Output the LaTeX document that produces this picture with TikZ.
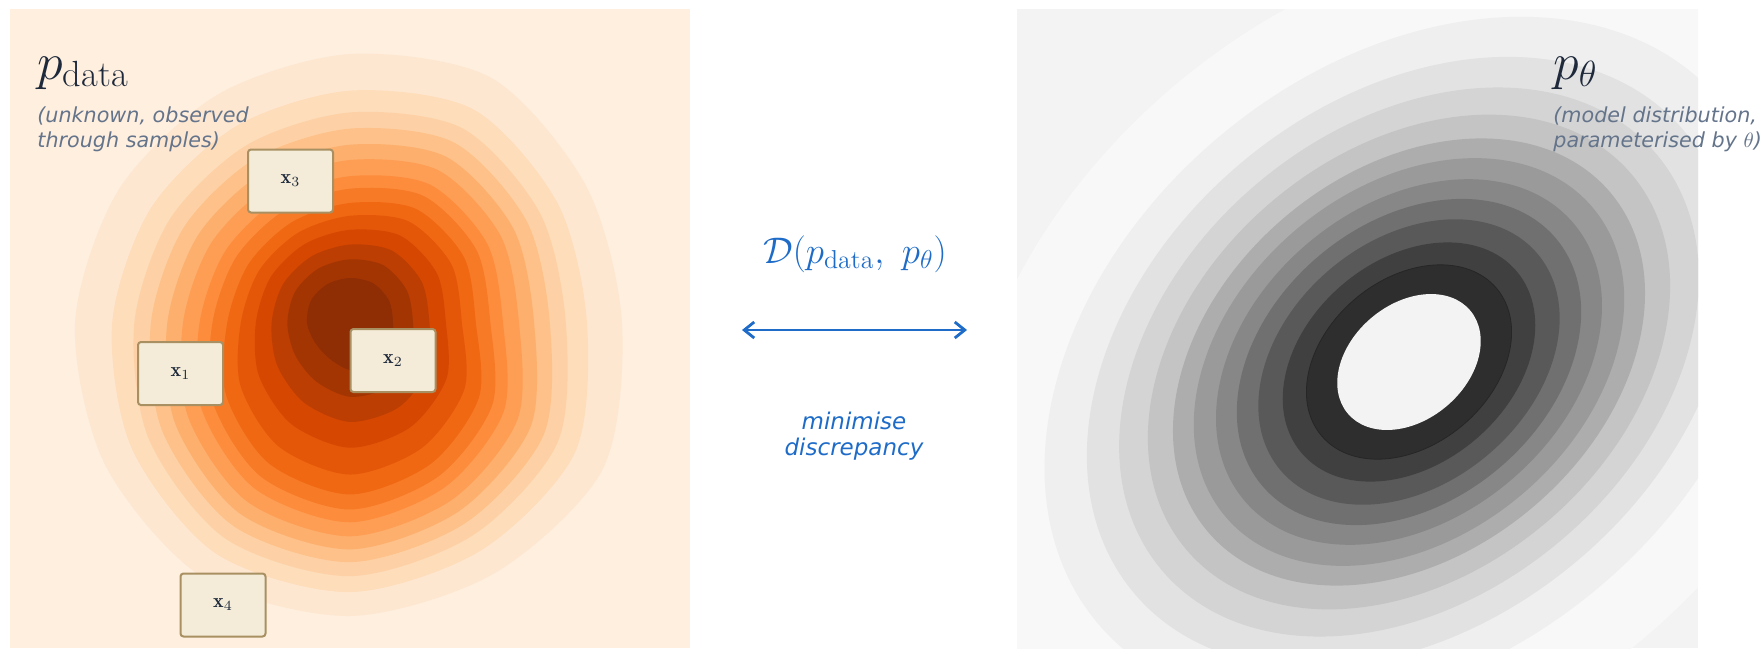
\RequirePackage{fix-cm}
\documentclass[tikz,border=0pt]{standalone}
\usepackage{fontspec}
\newfontfamily\notefont{DejaVu Sans}[ItalicFont={DejaVu Sans Oblique}]
\usetikzlibrary{arrows.meta,calc}
%% colours
\definecolor{ink}{HTML}{1E293B}
\definecolor{slate}{HTML}{64748B}
\definecolor{accent}{RGB}{30,108,200}
\definecolor{cream}{HTML}{F4ECD8}
\definecolor{tanline}{HTML}{A89062}
%% oranges, light to dark
\definecolor{or0}{RGB}{255,239,223}
\definecolor{or1}{RGB}{254,231,209}
\definecolor{or2}{RGB}{254,221,187}
\definecolor{or3}{RGB}{253,209,165}
\definecolor{or4}{RGB}{253,193,137}
\definecolor{or5}{RGB}{253,175,109}
\definecolor{or6}{RGB}{253,158,84}
\definecolor{or7}{RGB}{253,141,60}
\definecolor{or8}{RGB}{247,122,39}
\definecolor{or9}{RGB}{240,104,18}
\definecolor{or10}{RGB}{228,87,9}
\definecolor{or11}{RGB}{214,71,1}
\definecolor{or12}{RGB}{188,62,2}
\definecolor{or13}{RGB}{163,53,3}
\definecolor{or14}{RGB}{143,45,4}
%% greys, dark to light
\definecolor{gr0}{HTML}{F3F3F3}
\definecolor{gr1}{HTML}{2E2E2E}
\definecolor{gr2}{HTML}{404040}
\definecolor{gr3}{HTML}{595959}
\definecolor{gr4}{HTML}{707070}
\definecolor{gr5}{HTML}{878787}
\definecolor{gr6}{HTML}{9A9A9A}
\definecolor{gr7}{HTML}{ADADAD}
\definecolor{gr8}{HTML}{C4C4C4}
\definecolor{gr9}{HTML}{D4D4D4}
\definecolor{gr10}{HTML}{E2E2E2}
\definecolor{gr11}{HTML}{EFEFEF}
\definecolor{gr12}{HTML}{F8F8F8}
\tikzset{
	sample/.style={draw=tanline,fill=cream,line width=1pt,rounded corners=1.5pt,
		minimum width=42.5pt,minimum height=31.5pt,inner sep=0pt,text=ink,
		font=\fontsize{10}{12}\selectfont},
	distname/.style={anchor=base west,inner sep=0pt,text=ink,font=\fontsize{26}{30}\selectfont},
	note/.style={anchor=base west,inner sep=0pt,align=left,text=slate,
		font=\notefont\itshape\fontsize{10.35}{12.5}\selectfont},
}
\begin{document}
\begin{tikzpicture}[x=0.5pt,y=-0.5pt,>={Straight Barb[length=5pt,width=8pt]}]
	\useasboundingbox (0,0) rectangle (1763,649);
	%%Data distribution: filled contours (inner r / outer r / share of the wide profile)
	\begin{scope}
		\clip (10,9) rectangle (690,648);
		\fill[or0] (10,9) rectangle (690,648);
		\coordinate (dc) at (350,323);
		\foreach \ri/\ro/\w [count=\j from 0] in {43/272/.2,47/292/.5,50/289/.8,47/293/1,41/294/.85,40/283/.55,43/275/.1,45/267/0,45/264/0,45/269/.05,46/283/.2,45/273/.3}{
			\foreach \ta/\tb [count=\k] in {1/1,.833/.903,.734/.838,.661/.781,.588/.729,.519/.676,.446/.619,.39/.567,.326/.506,.27/.425,.21/.316,.146/.211,.082/.109,0/0}{
				\pgfmathsetmacro\r{\ri+((1-\w)*\ta+\w*\tb)*(\ro-\ri)}
				\coordinate (d\k-\j) at ($(dc)+({\j*30}:\r)$);
			}
		}
		\foreach \k in {1,...,14}
		\fill[or\k] plot[smooth cycle] coordinates {(d\k-0) (d\k-1) (d\k-2) (d\k-3) (d\k-4) (d\k-5) (d\k-6) (d\k-7) (d\k-8) (d\k-9) (d\k-10) (d\k-11)};
	\end{scope}
	%%Model distribution: tilted ellipses
	\begin{scope}
		\clip (1017,9) rectangle (1698,648);
		\fill[gr0] (1017,9) rectangle (1698,648);
		\coordinate (mc) at (1409,362);
		\foreach \s/\c in {6.25/gr12,5.08/gr11,4.49/gr10,4.04/gr9,3.64/gr8,3.29/gr7,3.0/gr6,2.69/gr5,2.40/gr4,2.10/gr3,1.76/gr2}
		\fill[\c,rotate around={40:(mc)}] (mc) ellipse [x radius=80*\s,y radius=58*\s];
		\filldraw[gr1,draw=black!85,line width=0.4pt,rotate around={40:(mc)}] (mc) ellipse [x radius=80*1.43,y radius=58*1.43];
		\fill[gr0,rotate around={40:(mc)}] (mc) ellipse [x radius=80,y radius=58];
	\end{scope}
	%%Samples
	\node[sample] (x1) at (180.5,373.5) {$\mathbf{x}_1$};
	\node[sample] (x2) at (393,360.5) {$\mathbf{x}_2$};
	\node[sample] (x3) at (290.5,181) {$\mathbf{x}_3$};
	\node[sample] (x4) at (223,605) {$\mathbf{x}_4$};
	%%Labels (multi-line nodes sit on their last baseline)
	\node[distname] (pdata) at (37,79) {$p_{\mathrm{data}}$};
	\node[note] (pdatanote) at (37,147) {(unknown, observed\\through samples)};
	\node[distname] (ptheta) at (1553,79) {$p_\theta$};
	\node[note] (pthetanote) at (1553,147) {(model distribution,\\parameterised by $\theta$)};
	%%Divergence between the two
	\node[anchor=base,inner sep=0pt,text=accent,font=\fontsize{18.5}{22}\selectfont] (div) at (855,263) {$\mathcal{D}(p_{\mathrm{data}},\ p_\theta)$};
	\coordinate (al) at (742,330);
	\coordinate (ar) at (967,330);
	\draw[<->,accent,line width=1.4pt,line cap=round] (al) -- (ar);
	\node[note,anchor=base,align=center,text=accent,font=\notefont\itshape\fontsize{11.5}{13}\selectfont] (mini) at (854,455) {minimise\\discrepancy};
\end{tikzpicture}
\end{document}
